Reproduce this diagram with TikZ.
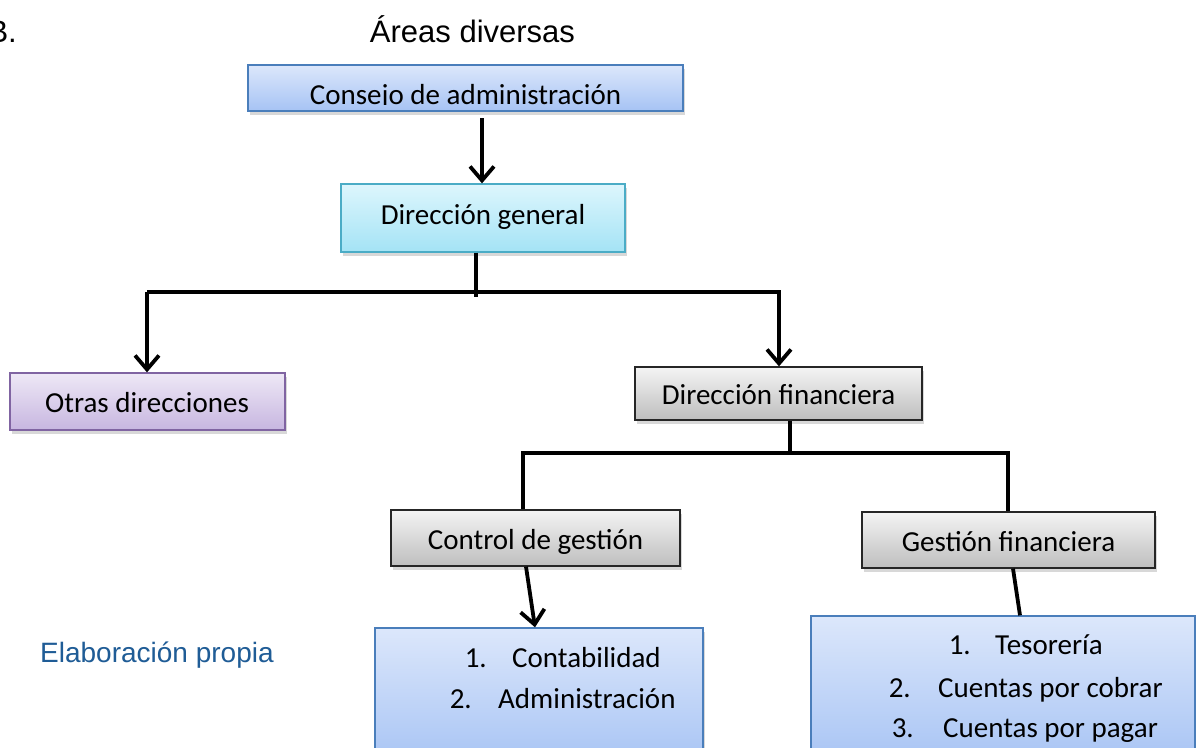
\documentclass[tikz,border=0pt]{standalone}
\usepackage{fontspec}
\setmainfont{Carlito}
\newfontfamily\arialfont{Liberation Sans}
\usetikzlibrary{arrows.meta,shadows,calc}
\definecolor{bluetop}{HTML}{DCE7FB}
\definecolor{bluebot}{HTML}{A6C3F4}
\definecolor{blueline}{HTML}{4A7EBB}
\definecolor{cyantop}{HTML}{DDF6FD}
\definecolor{cyanbot}{HTML}{A4E3F5}
\definecolor{cyanline}{HTML}{4BACC6}
\definecolor{purptop}{HTML}{EEE8F6}
\definecolor{purpbot}{HTML}{C7B6E0}
\definecolor{purpline}{HTML}{8064A2}
\definecolor{graytop}{HTML}{F4F4F4}
\definecolor{graybot}{HTML}{BEBEBE}
\definecolor{notecol}{HTML}{1F5C96}
\begin{document}
\begin{tikzpicture}[x=1pt,y=-1pt,
  box/.style={draw, line width=1.3pt, rectangle, inner sep=0pt,
    drop shadow={opacity=0.3, shadow xshift=2pt, shadow yshift=-4pt}},
  bluebox/.style={box, draw=blueline, top color=bluetop, bottom color=bluebot},
  cyanbox/.style={box, draw=cyanline, top color=cyantop, bottom color=cyanbot},
  purpbox/.style={box, draw=purpline, top color=purptop, bottom color=purpbot},
  graybox/.style={box, draw=black!85, top color=graytop, bottom color=graybot},
  txt/.style={font=\fontsize{29}{34}\selectfont, inner sep=0pt, anchor=base},
  ln/.style={line width=3.8pt, line join=miter},
  arr/.style={ln, -{Straight Barb[length=14pt,width=24pt,line width=3.8pt]}}
]
\useasboundingbox (0,0) rectangle (1196,747);
\fill[white] (0,0) rectangle (1196,747);

% titles
\node[font=\arialfont\fontsize{31}{36}\selectfont, inner sep=0pt, anchor=base east] (tnum) at (17,42) {B.};
\node[font=\arialfont\fontsize{31}{36}\selectfont, inner sep=0pt, anchor=base] (title) at (472.5,42) {Áreas diversas};
\node[font=\arialfont\fontsize{28}{32}\selectfont, inner sep=0pt, anchor=base west, text=notecol] (note) at (40,662) {Elaboración propia};

% boxes
\node[bluebox, minimum width=435pt, minimum height=46pt] (cons) at (465.5,88) {};
\begin{scope}
  \clip (248,65) rectangle (683,104.6);
  \node[txt] (constxt) at (465.5,104) {Consejo de administración};
\end{scope}

\node[cyanbox, minimum width=284pt, minimum height=68pt] (dg) at (483,218) {};
\node[txt] (dgtxt) at (483,224) {Dirección general};

\node[purpbox, minimum width=275pt, minimum height=57pt] (otras) at (147.5,401.5) {};
\node[txt] (otrastxt) at (147,412) {Otras direcciones};

\node[graybox, minimum width=287pt, minimum height=53pt] (df) at (778.5,393.5) {};
\node[txt] (dftxt) at (778.5,404) {Dirección financiera};

\node[graybox, minimum width=289pt, minimum height=56pt] (cg) at (535.5,538) {};
\node[txt] (cgtxt) at (535.5,549) {Control de gestión};

\node[graybox, minimum width=293pt, minimum height=56pt] (gf) at (1008.5,540) {};
\node[txt] (gftxt) at (1008.5,551) {Gestión financiera};

\node[bluebox, minimum width=328pt, minimum height=140pt] (lb) at (539,698) {};
\node[txt, anchor=base east] (l1n) at (487,667) {1.};
\node[txt, anchor=base west] (l1) at (512,667) {Contabilidad};
\node[txt, anchor=base east] (l2n) at (472,708) {2.};
\node[txt, anchor=base west] (l2) at (498,708) {Administración};

\node[bluebox, minimum width=384pt, minimum height=152pt] (rb) at (1003,692) {};
\node[txt, anchor=base east] (r1n) at (971,654) {1.};
\node[txt, anchor=base west] (r1) at (995,654) {Tesorería};
\node[txt, anchor=base east] (r2n) at (911,697) {2.};
\node[txt, anchor=base west] (r2) at (938,697) {Cuentas por cobrar};
\node[txt, anchor=base east] (r3n) at (914,737) {3.};
\node[txt, anchor=base west] (r3) at (943,737) {Cuentas por pagar};

% connectors
\coordinate (a0) at (482,118);
\draw[arr] (a0) -- (a0 |- dg.north);

\coordinate (j1) at (476,297);
\coordinate (hl) at (147,292);
\coordinate (hr) at (779,292);
\draw[ln] (dg.south -| j1) -- (j1);
\draw[arr] (hl) -- (hr) -- (hr |- df.north);
\draw[arr] (hl) -- (hl |- otras.north);

\coordinate (j2) at (790,453);
\coordinate (cl) at (523,453);
\coordinate (cr) at (1008,453);
\draw[ln] (df.south -| j2) -- (j2);
\draw[ln] (cl |- cg.north) -- (cl) -- (cr) -- (cr |- gf.north);

\draw[arr] ($(cg.south)+(-9.5,0)$) -- ($(lb.north)+(-4,0)$);
\draw[ln] ($(gf.south)+(4.5,0)$) -- ($(rb.north)+(17,0)$);
\end{tikzpicture}
\end{document}
